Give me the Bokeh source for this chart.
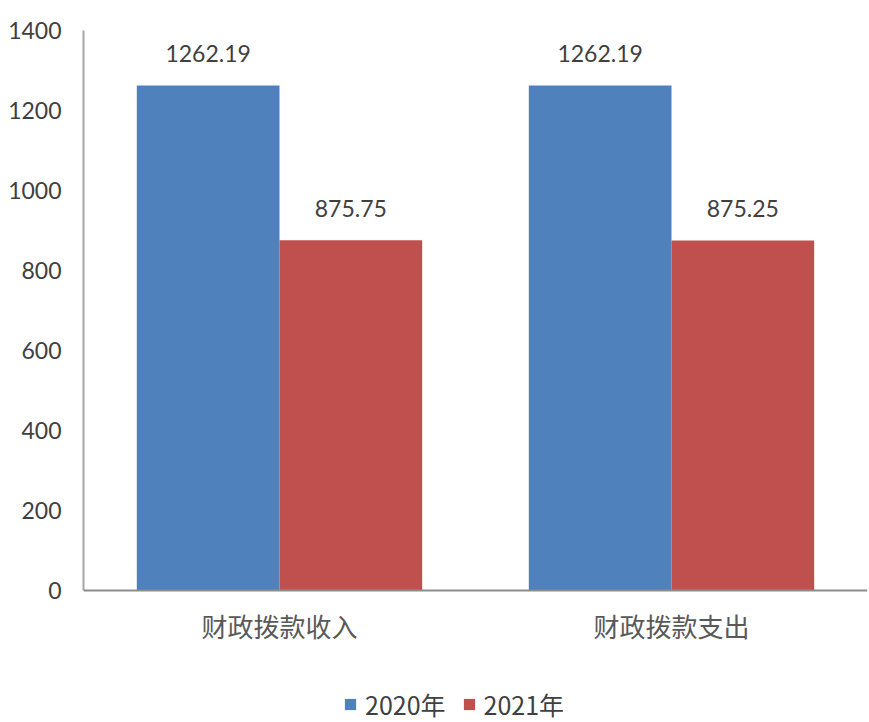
from bokeh.plotting import figure
from bokeh.models import (ColumnDataSource, Range1d, FixedTicker, Legend, LegendItem, LabelSet, Span)
from bokeh.core.properties import value
from bokeh.embed import file_html
from bokeh.resources import INLINE

categories = ["财政拨款收入", "财政拨款支出"]
series_names = ["2020年", "2021年"]
values_2020 = [1262.19, 1262.19]
values_2021 = [875.75, 875.25]
y_ticks = [0, 200, 400, 600, 800, 1000, 1200, 1400]
colors = ["#4F81BD", "#C0504D"]

bar_w = 0.364
centers = [i + 0.5 for i in range(len(categories))]
y_top = 1400
# frame runs to the bottom of the page; 0.4 px per unit -> 132 px below zero
y_bottom = -132 / 0.4

p = figure(width=869, height=722, output_backend="svg", toolbar_location=None,
           x_range=Range1d(0, 2), y_range=Range1d(y_bottom, y_top),
           x_axis_type=None,
           min_border_left=83, min_border_right=2, min_border_top=30, min_border_bottom=0)
p.outline_line_color = None
p.xgrid.grid_line_color = None
p.ygrid.grid_line_color = None
p.background_fill_color = "white"
p.border_fill_color = "white"

renderers = []
for k, (vals, col) in enumerate(zip([values_2020, values_2021], colors)):
    xs = [c + (k - 0.5) * bar_w for c in centers]
    src = ColumnDataSource(dict(x=xs, top=vals, lab=[f"{v:.2f}" for v in vals]))
    r = p.vbar(x="x", top="top", width=bar_w, bottom=0, source=src,
               fill_color=col, line_color=None)
    renderers.append(r)
    labels = LabelSet(x="x", y="top", text="lab", source=src,
                      text_align="center", text_baseline="middle", y_offset=32,
                      text_font=value("Lato"), text_font_size="23px", text_color="#404040")
    p.add_layout(labels)

# baseline (category axis line)
p.add_layout(Span(location=0, dimension="width", line_color="#8C8C8C", line_width=2))

# category labels
cat_src = ColumnDataSource(dict(x=centers, y=[0] * len(centers), name=categories))
p.add_layout(LabelSet(x="x", y="y", text="name", source=cat_src,
                      text_align="center", text_baseline="middle", y_offset=-35,
                      text_font=value("Noto Sans CJK SC"), text_font_size="26px",
                      text_color="#595959"))

# y axis
p.yaxis.ticker = FixedTicker(ticks=y_ticks)
p.yaxis.bounds = (0, y_top)
p.yaxis.major_tick_line_color = None
p.yaxis.minor_tick_line_color = None
p.yaxis.axis_line_color = "#A6A6A6"
p.yaxis.axis_line_width = 2
p.yaxis.major_label_standoff = 16
p.yaxis.major_label_text_font = "Lato"
p.yaxis.major_label_text_font_size = "23px"
p.yaxis.major_label_text_color = "#404040"

legend = Legend(items=[LegendItem(label=n, renderers=[r]) for n, r in zip(series_names, renderers)],
                orientation="horizontal", location=(260, 0),
                glyph_width=14, glyph_height=14, label_standoff=8, spacing=16,
                padding=0, margin=0, border_line_color=None, background_fill_alpha=0,
                label_text_font="Noto Sans CJK SC", label_text_font_size="25px",
                label_text_color="#404040")
p.add_layout(legend, "center")

open("out.html", "w").write(file_html(p, INLINE))
